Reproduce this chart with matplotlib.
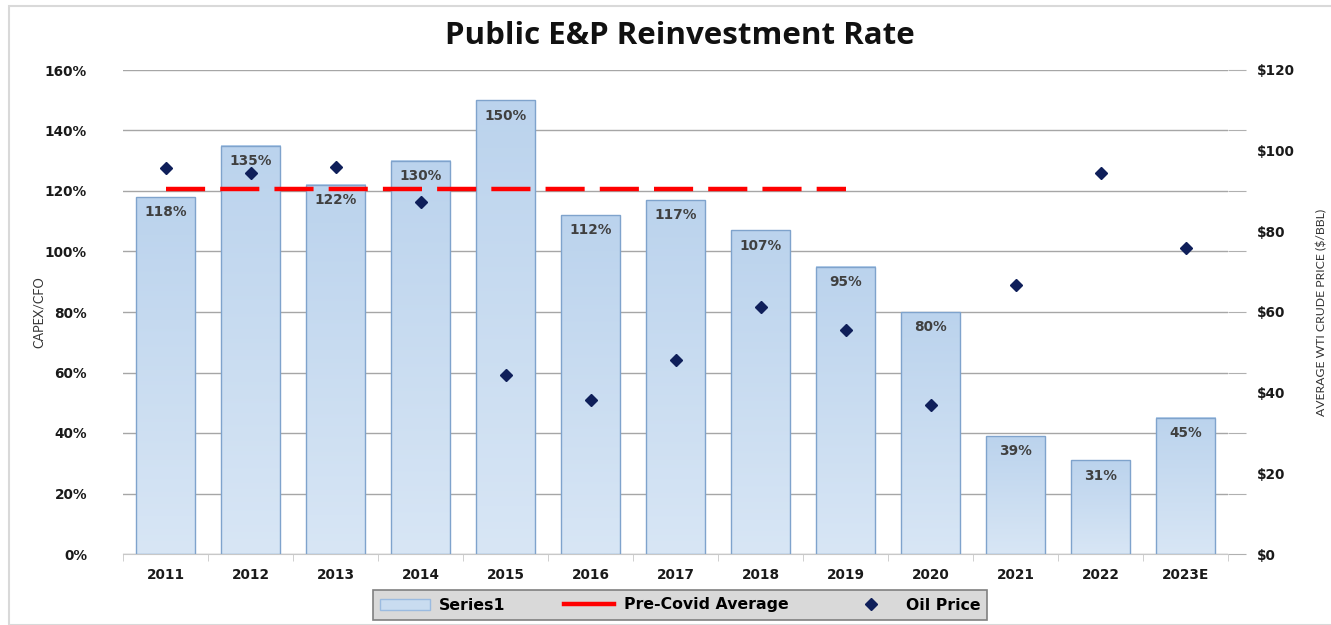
import matplotlib
matplotlib.use("Agg")
import matplotlib.pyplot as plt
import numpy as np
from matplotlib.patches import Rectangle, Patch
from matplotlib.lines import Line2D
from matplotlib.colors import LinearSegmentedColormap

years = ["2011", "2012", "2013", "2014", "2015", "2016", "2017", "2018", "2019",
         "2020", "2021", "2022", "2023E"]
reinvest = [118, 135, 122, 130, 150, 112, 117, 107, 95, 80, 39, 31, 45]
oil_price = [95.7, 94.5, 96.0, 87.3, 44.4, 38.2, 48.1, 61.3, 55.6, 37.0, 66.7, 94.5, 75.9]
precovid_years = years[:9]
precovid_avg = 120.7

plt.rcParams['font.family'] = ['DejaVu Sans']
TICKFONT = dict(family=["DejaVu Sans"], weight="bold", size=9.8)

fig = plt.figure(figsize=(13.31, 6.25), dpi=100)
ax = fig.add_axes([123/1331, 71/625, 1105/1331, 484/625])

x = np.arange(len(years))
width = 0.70
cmap = LinearSegmentedColormap.from_list("g", ["#d8e6f5", "#bbd3ed"])
grad = np.linspace(0, 1, 256).reshape(-1, 1)

bars = ax.bar(x, reinvest, width=width, facecolor="none", edgecolor="#7fa3cc",
              linewidth=1.0, zorder=3)
for b in bars:
    bx, by = b.get_x(), b.get_y()
    bw, bh = b.get_width(), b.get_height()
    ax.imshow(grad, cmap=cmap, aspect="auto", origin="lower",
              extent=(bx, bx + bw, by, by + bh), zorder=2)

for xi, v in zip(x, reinvest):
    ax.annotate(f"{v}%", (xi, v), xytext=(0, -11), textcoords="offset points",
                ha="center", va="center", fontsize=9.8, fontweight="bold",
                color="#404040", zorder=6)

ax.plot(np.arange(len(precovid_years)), [precovid_avg] * len(precovid_years),
        color="#ff0000", linewidth=3.2, dashes=(8.8, 3.4), zorder=5,
        solid_capstyle="butt", dash_capstyle="butt")

ax.set_xlim(-0.5, len(years) - 0.5)
ax.set_ylim(0, 160)
ax.set_yticks(np.arange(0, 161, 20))
ax.set_yticklabels([f"{v}%" for v in range(0, 161, 20)])
ax.set_xticks(x)
ax.set_xticklabels(years)
ax.set_xticks(np.arange(-0.5, len(years), 1), minor=True)
ax.grid(axis="y", color="#a6a6a6", linewidth=1.0, zorder=0)
ax.set_axisbelow(True)
for s in ["top", "right", "left"]:
    ax.spines[s].set_visible(False)
ax.spines["bottom"].set_color("#c8c8c8")
ax.set_ylabel("CAPEX/CFO", fontsize=9.2, color="#333333", family=["Lato", "DejaVu Sans"])
ax.yaxis.set_label_coords((45 - 123) / 1105, 0.5)

ax2 = ax.twinx()
ax2.set_ylim(0, 120)
ax2.set_yticks(np.arange(0, 121, 20))
ax2.set_yticklabels([f"${v}" for v in range(0, 121, 20)])
ax2.plot(x, oil_price, linestyle="none", marker="D", markersize=6.5,
         color="#0f1f5a", zorder=7)
ax2.tick_params(axis="y", length=0, pad=21)
for s in ax2.spines.values():
    s.set_visible(False)
ax2.set_ylabel("AVERAGE WTI CRUDE PRICE ($/BBL)", fontsize=8.8, color="#333333",
               family=["Lato", "DejaVu Sans"])
ax2.yaxis.set_label_coords((1316 - 123) / 1105, 0.5)

# tick settings after twinx (twinx resets left ticks)
ax.tick_params(axis="x", which="major", length=0, pad=10)
ax.tick_params(axis="x", which="minor", length=5, color="#c8c8c8", direction="out")
ax.tick_params(axis="y", which="major", left=False, right=True, labelleft=True,
               labelright=False, length=13, color="#b0b0b0", direction="out", pad=13)
for lbl in ax.get_xticklabels() + ax.get_yticklabels() + ax2.get_yticklabels():
    lbl.set_fontproperties(TICKFONT)
    lbl.set_color("#1a1a1a")

fig.text(680/1331, 1 - 36/625, "Public E&P Reinvestment Rate", ha="center",
         va="center", fontsize=22.5, fontweight="bold", color="#111111",
         family=["Open Sans", "DejaVu Sans"])

handles = [Patch(facecolor="#c9dcf0", edgecolor="#9bbbe0", linewidth=1.0),
           Line2D([], [], color="#ff0000", linewidth=3.2),
           Line2D([], [], linestyle="none", marker="D", markersize=6.5, color="#0f1f5a")]
leg = ax.legend(handles, ["Series1", "Pre-Covid Average", "Oil Price"],
                loc="center", bbox_to_anchor=((680 - 123) / 1105, (554 - 605) / 484),
                ncol=3, frameon=True, fancybox=False, framealpha=1,
                facecolor="#d9d9d9", edgecolor="#808080",
                prop={"family": ["DejaVu Sans"], "weight": "bold", "size": 11.3},
                handlelength=3.2, columnspacing=3.7, handletextpad=0.6,
                borderpad=0.45, borderaxespad=0)
leg.get_frame().set_linewidth(1.2)

fig.patches.append(Rectangle((9/1331, 0), 1.0, 1 - 6/625, transform=fig.transFigure,
                             fill=False, edgecolor="#d9d9d9", linewidth=1.5))

fig.savefig("out.png", dpi=100, facecolor="white")
